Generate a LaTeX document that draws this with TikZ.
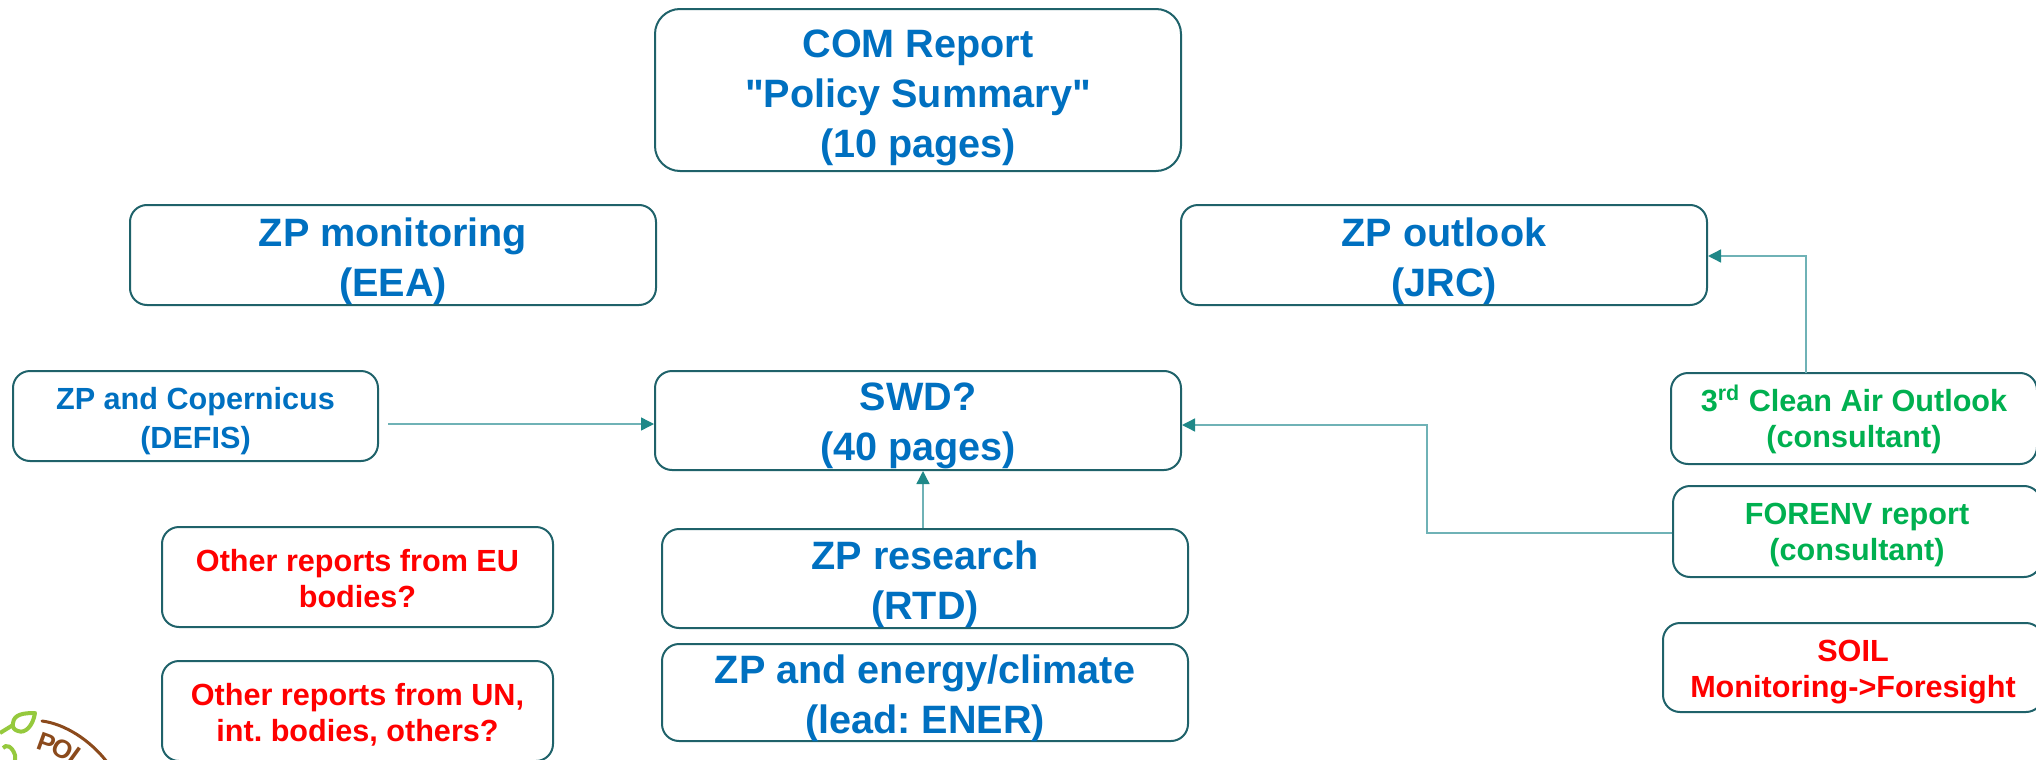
\documentclass[tikz,border=0pt]{standalone}
\usepackage{fontspec}
\setmainfont{Liberation Sans}[Ligatures=TeXOff]
\usetikzlibrary{arrows.meta}
\definecolor{boxc}{HTML}{1F626A}
\definecolor{linec}{HTML}{6FB2B6}
\definecolor{headc}{HTML}{1F8888}
\definecolor{bluet}{HTML}{0070C0}
\definecolor{greent}{HTML}{00B050}
\definecolor{redt}{HTML}{FF0000}
\definecolor{leafc}{HTML}{95C93D}
\definecolor{brownc}{HTML}{8B4A1C}
\tikzset{
  x=0.5pt,y=-0.5pt,
  boxn/.style={draw=boxc,line width=1pt,rounded corners=8.5pt,align=center,inner sep=0pt,font=\bfseries},
  bigt/.style={boxn,text=bluet,font=\fontsize{19.8}{25}\selectfont\bfseries\frenchspacing},
  smallblue/.style={boxn,text=bluet,font=\fontsize{15.3}{19.5}\selectfont\bfseries\frenchspacing},
  smallred/.style={boxn,text=redt,font=\fontsize{15.3}{18}\selectfont\bfseries\frenchspacing},
  smallgreen/.style={boxn,text=greent,font=\fontsize{15.3}{18}\selectfont\bfseries\frenchspacing},
  conn/.style={draw=linec,line width=0.7pt,-{Triangle[length=6.5pt,width=6.5pt,color=headc,fill=headc]}},
  logol/.style={text=brownc,font=\fontsize{13}{13}\selectfont\bfseries,inner sep=0pt}
}
\newcommand{\st}[1]{\rule{0pt}{#1pt}}
\newcommand{\bx}[7]{%
  \pgfmathsetmacro{\cxx}{(#2+#4)/2}\pgfmathsetmacro{\cyy}{(#3+#5)/2}%
  \pgfmathsetmacro{\wdd}{(#4-#2)/2}\pgfmathsetmacro{\htt}{(#5-#3)/2}%
  \node[#6,minimum width=\wdd pt,minimum height=\htt pt] (#1) at (\cxx,\cyy) {#7};}
\begin{document}
\begin{tikzpicture}
\useasboundingbox (0,0) rectangle (2036,760);
\clip (0,0) rectangle (2036,760);
\bx{com}{655}{9}{1181}{171}{bigt,rounded corners=12.5pt}{\st{21.6}COM Report\\"Policy Summary"\\(10 pages)}
\bx{mon}{130}{205}{656}{305}{bigt}{\st{20.3}ZP monitoring\\(EEA)}
\bx{out}{1181}{205}{1707}{305}{bigt}{\st{20.3}ZP outlook\\(JRC)}
\bx{cop}{13}{371}{378}{461}{smallblue}{\st{16.4}ZP and Copernicus\\(DEFIS)}
\bx{swd}{655}{371}{1181}{470}{bigt}{\st{19}SWD?\\(40 pages)}
\bx{clean}{1671}{373}{2037}{464}{smallgreen}{\st{13.8}3\textsuperscript{rd} Clean Air Outlook\\(consultant)}
\bx{fore}{1673}{486}{2041}{577}{smallgreen}{\st{14.5}FORENV report\\(consultant)}
\bx{soil}{1663}{623}{2043}{712}{smallred}{\st{15.1}SOIL\\Monitoring->Foresight}
\bx{eu}{162}{527}{553}{627}{smallred}{\st{12.5}Other reports from EU\\bodies?}
\bx{un}{162}{661}{553}{761}{smallred}{\st{14.5}Other reports from UN,\\int. bodies, others?}
\bx{res}{662}{529}{1188}{628}{bigt}{\st{16.1}ZP research\\\smash{(RTD)}}
\bx{ene}{662}{644}{1188}{741}{bigt}{\st{16.1}ZP and energy/climate\\\smash{(lead: ENER)}}
\coordinate (copout) at (388,424);
\coordinate (forebend) at (1427,533);
\coordinate (cleanup) at (1806,373);
\coordinate (cleanbend) at (1806,256);
\draw[conn] (copout) -- (copout -| swd.west);
\draw[conn] ([xshift=-1pt]res.north) -- ([xshift=-1pt]res.north |- swd.south);
\draw[conn] (forebend -| fore.west) -- (forebend) -- (forebend |- 0,425) -- (swd.east |- 0,425);
\draw[conn] (cleanup) -- (cleanbend) -- (cleanbend -| out.east);
% logo fragment
\draw[leafc,line width=2pt] (0,733) -- (13,725);
\draw[leafc,line width=2pt,line join=round] (13,723) .. controls (14,714) and (24,713) .. (35,713) .. controls (33,726) and (25,734) .. (18,731) .. controls (14,730) and (12,727) .. (13,723) -- cycle;
\draw[leafc,line width=2pt] (3,748) .. controls (6,744) and (12,746) .. (15,755) .. controls (16,760) and (14,764) .. (12,766);
\draw[brownc,line width=1.5pt,line cap=round] (42,721) .. controls (65,724) and (90,740) .. (107,762);
\node[logol,rotate=-20] (lp) at (47,743) {P};
\node[logol,rotate=-28] (lo) at (63,749) {O};
\node[logol,rotate=-36] (ll) at (78,758) {L};
\end{tikzpicture}
\end{document}
